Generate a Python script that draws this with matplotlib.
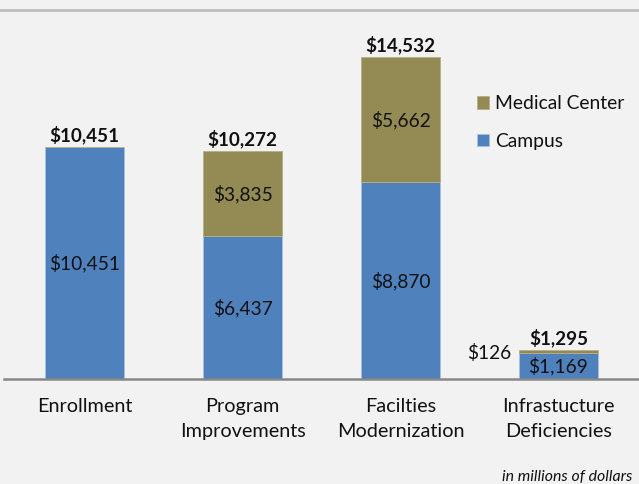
import matplotlib.pyplot as plt
import numpy as np
from matplotlib.lines import Line2D

plt.rcParams['font.family'] = ['Lato', 'DejaVu Sans']

categories = ['Enrollment', 'Program\nImprovements', 'Facilties\nModernization', 'Infrastucture\nDeficiencies']
campus = [10451, 6437, 8870, 1169]
medical = [0, 3835, 5662, 126]
totals = [10451, 10272, 14532, 1295]

c_campus = '#4F81BD'
c_med = '#948A54'
bg = '#F2F2F2'

fig = plt.figure(figsize=(6.39, 4.84), dpi=100, facecolor=bg)
W, H = 639, 484
ax = fig.add_axes([4 / W, (H - 379) / H, 635 / W, (379 - 10) / H])
ax.set_facecolor(bg)

x = np.arange(len(categories))
ax.bar(x, campus, width=0.5, color=c_campus, edgecolor='#A9C0DE', linewidth=0.6, label='Campus', zorder=2)
ax.bar(x, medical, width=0.5, bottom=campus, color=c_med, edgecolor='#B5AE8A', linewidth=0.6,
       label='Medical Center', zorder=2)

ax.set_xlim(-0.51, 3.51)
ax.set_ylim(0, 16644)

# segment labels
for i in range(len(x)):
    ax.text(x[i], campus[i] / 2, f'${campus[i]:,}', ha='center', va='center', fontsize=13.8, color='#111111')
    if i == 3:
        # small slice, label sits to the left of the bar
        ax.text(x[i] - 0.3, totals[i] - 120, f'${medical[i]:,}', ha='right', va='center',
                fontsize=13.8, color='#111111')
    elif medical[i] > 0:
        ax.text(x[i], campus[i] + medical[i] / 2, f'${medical[i]:,}', ha='center', va='center',
                fontsize=13.8, color='#111111')
    ax.text(x[i], totals[i] + 120, f'${totals[i]:,}', ha='center', va='bottom', fontsize=13.6,
            fontweight='bold', color='#111111')

ax.set_xticks(x)
ax.set_xticklabels(categories, fontsize=14.3, color='#111111', linespacing=1.6)
ax.tick_params(axis='x', length=0, pad=13.5)
ax.set_yticks([])
for s in ['top', 'left', 'right']:
    ax.spines[s].set_visible(False)
ax.spines['bottom'].set_color('#888888')
ax.spines['bottom'].set_linewidth(1.8)

handles, labels = ax.get_legend_handles_labels()
leg = ax.legend(handles[::-1], labels[::-1], loc='upper left', bbox_to_anchor=(456 / 635, (379 - 78) / 369),
                frameon=False, fontsize=13.9, handlelength=0.62, handleheight=0.62, handletextpad=0.3,
                labelspacing=1.05, labelcolor='#111111')

fig.add_artist(Line2D([0, 1], [1 - 10 / H, 1 - 10 / H], color='#BFBFBF', linewidth=2))
fig.text(632 / W, 1 - 477 / H, 'in millions of dollars', ha='right', va='center', fontsize=11.4,
         style='italic', color='#111111')

fig.savefig('out.png', dpi=100, facecolor=bg)
